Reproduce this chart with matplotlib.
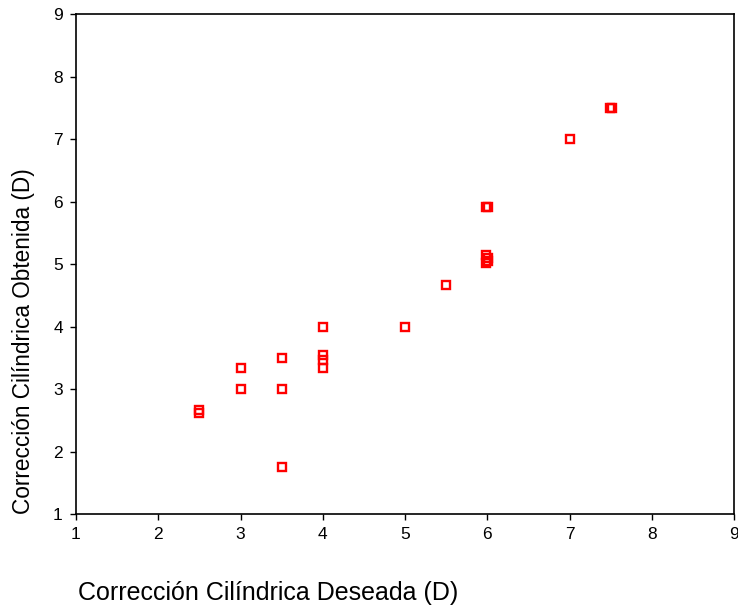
import matplotlib.pyplot as plt

plt.rcParams['font.family'] = ['Liberation Sans', 'DejaVu Sans']

# Corrección cilíndrica deseada vs obtenida (D)
deseada = [2.5, 2.5, 3.0, 3.0, 3.5, 3.5, 3.5, 4.0, 4.0, 4.0, 4.0,
           5.0, 5.5, 5.988, 6.012, 5.988, 6.012, 5.988, 6.012, 7.0, 7.488, 7.512]
obtenida = [2.61, 2.66, 3.33, 3.0, 3.5, 3.0, 1.75, 4.0, 3.55, 3.47, 3.33,
            4.0, 4.67, 5.92, 5.92, 5.15, 5.09, 5.02, 5.05, 7.0, 7.49, 7.49]
ticks = [1, 2, 3, 4, 5, 6, 7, 8, 9]

fig = plt.figure(figsize=(7.38, 6.08), dpi=100)
ax = fig.add_axes([76 / 738, 1 - 514 / 608, 658 / 738, 500 / 608])

ax.plot(deseada, obtenida, linestyle='none', marker='s', markersize=5.3,
        markerfacecolor='none', markeredgecolor='#ff0000', markeredgewidth=1.7)

ax.set_xlim(1, 9)
ax.set_ylim(1, 9)
ax.set_xticks(ticks)
ax.set_yticks(ticks)
ax.tick_params(direction='out', length=4.5, width=1, labelsize=12.5)
ax.tick_params(axis='x', pad=5)
ax.tick_params(axis='y', pad=5)
for s in ax.spines.values():
    s.set_linewidth(1.2)

fig.text(78 / 738, 1 - 593 / 608, 'Corrección Cilíndrica Deseada (D)',
         fontsize=18, ha='left', va='center')
fig.text(24 / 738, 1 - 341 / 608, 'Corrección Cilíndrica Obtenida (D)',
         fontsize=16.3, ha='center', va='center', rotation=90)

fig.savefig('out.png', dpi=100)
